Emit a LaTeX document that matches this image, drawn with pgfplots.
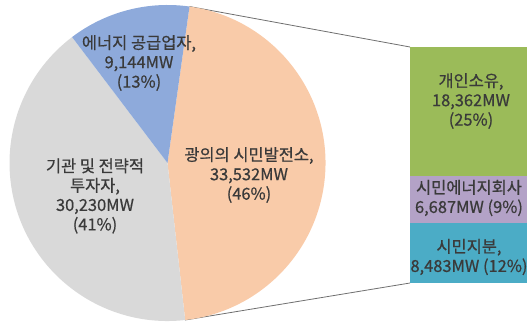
\documentclass[border=0pt]{standalone}
\usepackage{pgfplots}
\pgfplotsset{compat=1.18}
\usepackage{fontspec}
\setmainfont{Noto Sans CJK KR}[FakeBold=0.6]
\definecolor{pieorange}{HTML}{F9CBA9}
\definecolor{piegray}{HTML}{D9D9D9}
\definecolor{pieblue}{HTML}{8EAADB}
\definecolor{bargreen}{HTML}{9BBB59}
\definecolor{barpurple}{HTML}{B3A2C7}
\definecolor{barteal}{HTML}{4BACC6}
\definecolor{txt}{HTML}{3A3A3A}
\definecolor{conn}{HTML}{6F6F6F}
\begin{document}
\begin{tikzpicture}[x=1bp,y=1bp]
\useasboundingbox (0,0) rectangle (529,325);
% pie values (MW)
\edef\vOrange{33532}\edef\vGray{30230}\edef\vBlue{9144}
\edef\tot{\fpeval{\vOrange+\vGray+\vBlue}}
\edef\cx{167.5}\edef\cy{162}\edef\R{158}
\edef\aA{82}
\edef\aB{\fpeval{\aA-360*\vOrange/\tot}}
\edef\aC{\fpeval{\aB-360*\vGray/\tot}}
\edef\aD{\fpeval{\aC-360*\vBlue/\tot}}
\edef\xA{\fpeval{\cx+\R*cosd(\aA)}}\edef\yA{\fpeval{\cy+\R*sind(\aA)}}
\edef\xB{\fpeval{\cx+\R*cosd(\aB)}}\edef\yB{\fpeval{\cy+\R*sind(\aB)}}
\edef\xC{\fpeval{\cx+\R*cosd(\aC)}}\edef\yC{\fpeval{\cy+\R*sind(\aC)}}
\begin{axis}[at={(0bp,0bp)},anchor=south west,width=529bp,height=325bp,scale only axis,
  xmin=0,xmax=529,ymin=0,ymax=325,hide axis,clip=false]
\draw[conn,line width=0.8bp] (\xA,\yA) -- (410,278);
\draw[conn,line width=0.8bp] (\xB,\yB) -- (410,42);
\fill[pieorange] (\cx,\cy) -- (\xA,\yA) arc[start angle=\aA,end angle=\aB,radius=\R bp] -- cycle;
\fill[piegray] (\cx,\cy) -- (\xB,\yB) arc[start angle=\aB,end angle=\aC,radius=\R bp] -- cycle;
\fill[pieblue] (\cx,\cy) -- (\xC,\yC) arc[start angle=\aC,end angle=\aD,radius=\R bp] -- cycle;
\end{axis}
\begin{axis}[at={(410bp,42bp)},anchor=south west,width=117bp,height=236bp,scale only axis,
  hide axis,ybar stacked,bar width=117bp,xmin=-0.5,xmax=0.5,ymin=0,ymax=33532]
\addplot[fill=barteal,draw=none] coordinates {(0,8483)};
\addplot[fill=barpurple,draw=none] coordinates {(0,6687)};
\addplot[fill=bargreen,draw=none] coordinates {(0,18362)};
\end{axis}
\begin{scope}[every node/.style={font=\fontsize{16.5}{19.5}\selectfont,align=center,text=txt,inner sep=0pt}]
\node at (139,262) {에너지 공급업자,\\9,144MW\\(13\%)};
\node at (249,150) {광의의 시민발전소,\\33,532MW\\(46\%)};
\node at (95,129) {기관 및 전략적\\투자자,\\30,230MW\\(41\%)};
\node at (471,224) {개인소유,\\18,362MW\\(25\%)};
\node at (469,127) {시민에너지회사\\6,687MW (9\%)};
\node at (469,68) {시민지분,\\8,483MW (12\%)};
\end{scope}
\end{tikzpicture}
\end{document}
